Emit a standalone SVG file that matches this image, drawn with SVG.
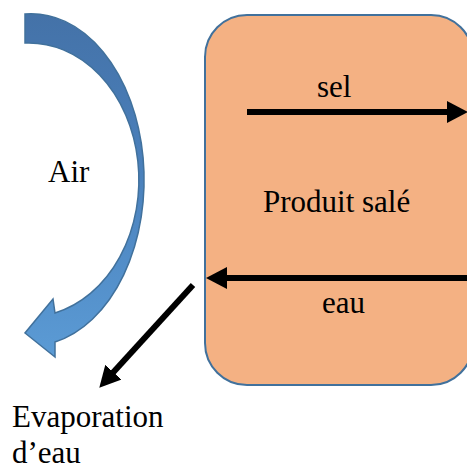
<svg xmlns="http://www.w3.org/2000/svg" width="467" height="469" viewBox="0 0 467 469">
<style>
.t{font-family:"Liberation Serif","Times New Roman",serif;font-size:31px;fill:#000}
.c{stroke:#000;stroke-width:6;fill:none}
</style>
<defs>
<marker id="ah" markerUnits="userSpaceOnUse" markerWidth="22" markerHeight="22" refX="10" refY="11" orient="auto">
<path d="M0,0 L21,11 L0,22 Z" fill="#000"/>
</marker>
<linearGradient id="blue" x1="0" y1="0" x2="0" y2="1">
<stop offset="0" stop-color="#4472A8"/>
<stop offset="0.45" stop-color="#4A80BB"/>
<stop offset="1" stop-color="#5B9BD5"/>
</linearGradient>
</defs>
<g id="air">
<path d="M25,14 A113,166 0 0,1 55,342 L55,357 L25,333 L53,299 L55,313 A110,137 0 0,0 25,43 Z" fill="url(#blue)" stroke="#41719C" stroke-width="1.5"/>
<text class="t" x="48" y="182">Air</text>
</g>
<g id="produit">
<rect x="205" y="15" width="268" height="370" rx="42" ry="42" fill="#F4B183" stroke="#41719C" stroke-width="2"/>
<text class="t" x="263" y="212">Produit salé</text>
</g>
<g id="connectors">
<line class="c" x1="247" y1="112" x2="457" y2="112" marker-end="url(#ah)"/>
<line class="c" x1="470" y1="278" x2="217" y2="278" marker-end="url(#ah)"/>
<line class="c" x1="193" y1="285" x2="106.7" y2="379.6" marker-end="url(#ah)"/>
<text class="t" x="317" y="97">sel</text>
<text class="t" x="322" y="313">eau</text>
</g>
<g id="evaporation">
<text class="t" x="12" y="427">Evaporation</text>
<text class="t" x="12" y="463">d’eau</text>
</g>
</svg>
